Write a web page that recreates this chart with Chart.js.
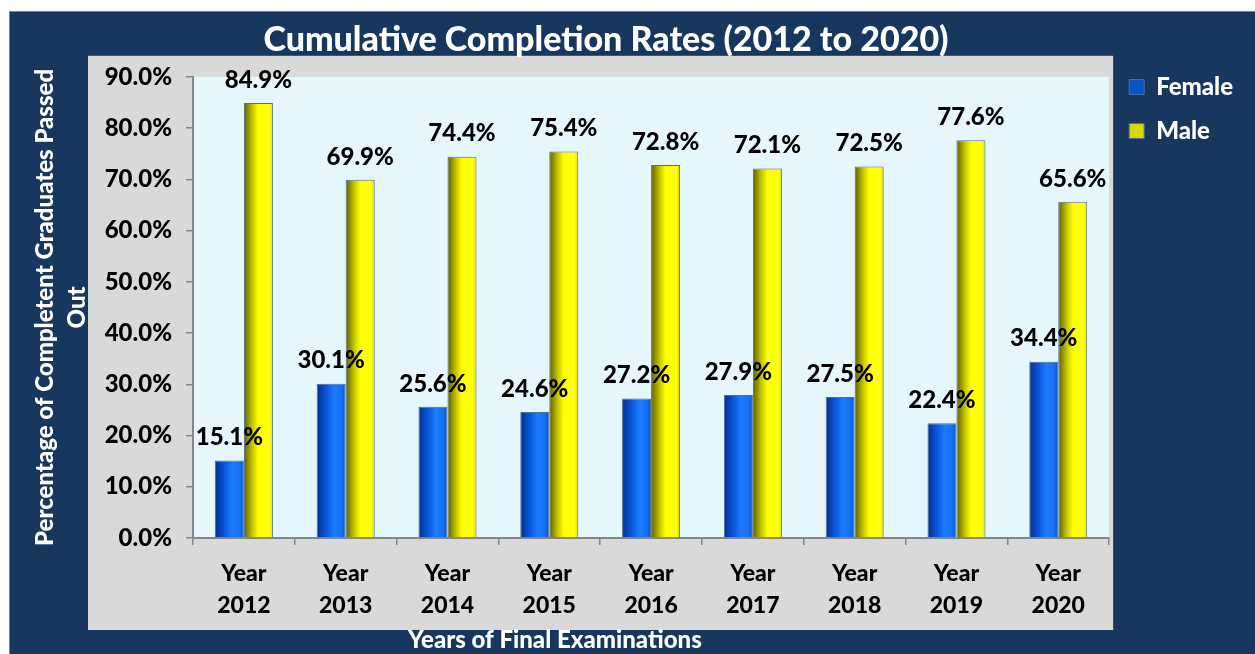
<!DOCTYPE html>
<html>
<head>
<meta charset="utf-8">
<title>Cumulative Completion Rates</title>
<script src="https://cdn.jsdelivr.net/npm/chart.js@4.4.1/dist/chart.umd.min.js"></script>
<style>
  html, body { margin: 0; padding: 0; background: #fff; overflow: hidden; }
  #frame { position: absolute; left: 9px; top: 11px; border-left: 1px solid #7f7f7f; border-top: 1px solid #7f7f7f; }
  #wrap { position: relative; width: 1245px; height: 642px; }
</style>
</head>
<body>
<div id="frame"><div id="wrap"><canvas id="chCompletion"></canvas></div></div>
<script>
// completion-rates.js
// Cumulative completion rates by gender, 2012 - 2020

const years = ['2012', '2013', '2014', '2015', '2016', '2017', '2018', '2019', '2020'];
const femaleRates = [15.1, 30.1, 25.6, 24.6, 27.2, 27.9, 27.5, 22.4, 34.4];
const maleRates = [84.9, 69.9, 74.4, 75.4, 72.8, 72.1, 72.5, 77.6, 65.6];
const yMin = 0, yMax = 90, yStep = 10;

const chartTitle = 'Cumulative Completion Rates (2012 to 2020)';
const yTitle = ['Percentage of Completent Graduates Passed', 'Out'];
const xTitle = 'Years of Final Examinations';

const NAVY = '#17375E';
const CAT_PCT = 0.57;
const W = 900; // heavy weight, closer to the original's bold text

Chart.defaults.font.family = 'Lato';
Chart.defaults.font.weight = W;

// shaded "cylinder" look, one gradient per bar
function barFill(stops, solid) {
    return function(ctx) {
        const chart = ctx.chart;
        const xs = chart.scales.x;
        if (ctx.type !== 'data' || !xs || !chart.chartArea) return solid;
        const w = (xs.width / years.length) * CAT_PCT / 2;
        const left = xs.getPixelForValue(ctx.dataIndex) - w + ctx.datasetIndex * w;
        const g = chart.ctx.createLinearGradient(left, 0, left + w, 0);
        stops.forEach(s => g.addColorStop(s[0], s[1]));
        return g;
    };
}

const blueStops = [[0, '#002E8C'], [0.35, '#0A5AE0'], [0.6, '#1C7CFF'], [0.85, '#1570F4'], [1, '#0A52C8']];
const yellowStops = [[0, '#5E5E00'], [0.3, '#C8C800'], [0.5, '#FFFF00'], [0.88, '#FFFF10'], [1, '#D8D800']];

const panelPlugin = {
    id: 'panel',
    beforeDraw(chart) {
        const { ctx, chartArea: a, width, height } = chart;
        ctx.save();
        ctx.fillStyle = NAVY;
        ctx.fillRect(0, 0, width, height);
        ctx.fillStyle = '#D9D9D9';
        ctx.fillRect(a.left - 105, a.top - 21, a.right - a.left + 109, a.bottom - a.top + 113);
        ctx.fillStyle = '#E5F7FD';
        ctx.fillRect(a.left, a.top, a.right - a.left, a.bottom - a.top);
        ctx.restore();
    },
    afterDraw(chart) {
        // x axis title sits left of centre in the original
        const { ctx, chartArea: a } = chart;
        ctx.save();
        ctx.font = W + ' 24px Lato';
        ctx.fillStyle = '#fff';
        ctx.textAlign = 'center';
        ctx.textBaseline = 'middle';
        ctx.fillText(xTitle, a.left + (a.right - a.left) * 0.395, a.bottom + 102);
        ctx.restore();
    }
};

const valueLabels = {
    id: 'valueLabels',
    afterDatasetsDraw(chart) {
        const ctx = chart.ctx;
        ctx.save();
        ctx.font = W + ' 24px Lato';
        ctx.fillStyle = '#000';
        ctx.textAlign = 'center';
        ctx.textBaseline = 'middle';
        chart.data.datasets.forEach((ds, i) => {
            chart.getDatasetMeta(i).data.forEach((bar, j) => {
                ctx.fillText(ds.data[j].toFixed(1) + '%', bar.x, bar.y - 23);
            });
        });
        ctx.restore();
    }
};

new Chart(document.getElementById('chCompletion'), {
    type: 'bar',
    data: {
        labels: years.map(y => ['Year', y]),
        datasets: [
            {
                label: 'Female',
                data: femaleRates,
                backgroundColor: barFill(blueStops, '#0066FF'),
                borderColor: '#4F6E93',
                borderWidth: 1,
                categoryPercentage: CAT_PCT,
                barPercentage: 1
            },
            {
                label: 'Male',
                data: maleRates,
                backgroundColor: barFill(yellowStops, '#FFFF00'),
                borderColor: '#4F6E93',
                borderWidth: 1,
                categoryPercentage: CAT_PCT,
                barPercentage: 1
            }
        ]
    },
    options: {
        responsive: true,
        maintainAspectRatio: false,
        animation: false,
        layout: { padding: { left: -41, right: 12, top: 43, bottom: 0 } },
        plugins: {
            title: {
                display: true,
                text: chartTitle,
                color: '#fff',
                font: { size: 34, weight: W, lineHeight: 1.2 },
                padding: { top: -35, bottom: 16 }
            },
            legend: {
                position: 'right',
                align: 'start',
                labels: {
                    color: '#fff',
                    font: { size: 24, weight: W },
                    boxWidth: 15,
                    boxHeight: 15,
                    padding: 20
                }
            },
            tooltip: { enabled: false }
        },
        scales: {
            x: {
                afterFit: s => { s.height = 116; },
                grid: { drawOnChartArea: false, tickLength: 7, color: '#868686', lineWidth: 1.5 },
                border: { color: '#868686', width: 2 },
                ticks: { color: '#000', font: { size: 23, weight: W, lineHeight: 1.4 }, padding: 12, maxRotation: 0 }
            },
            y: {
                min: yMin,
                max: yMax,
                afterFit: s => { s.width = 224; },
                grid: { drawOnChartArea: false, tickLength: 7, color: '#868686', lineWidth: 1.5 },
                border: { color: '#868686', width: 2 },
                ticks: {
                    stepSize: yStep,
                    color: '#000',
                    padding: 14,
                    font: { size: 24, weight: W },
                    callback: v => v.toFixed(1) + '%'
                },
                title: {
                    display: true,
                    text: yTitle,
                    color: '#fff',
                    font: { size: 24, weight: W, lineHeight: 1.3 },
                    padding: { top: 61, bottom: 0 }
                }
            }
        }
    },
    plugins: [panelPlugin, valueLabels]
});
</script>
</body>
</html>
